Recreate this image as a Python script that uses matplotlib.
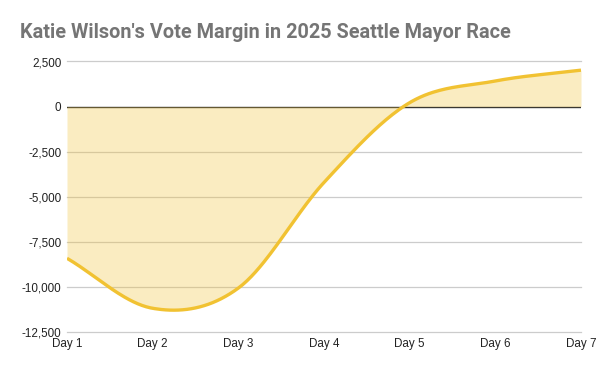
import numpy as np
import matplotlib.pyplot as plt

days = ["Day 1", "Day 2", "Day 3", "Day 4", "Day 5", "Day 6", "Day 7"]
margin = [-8400, -11170, -10050, -4200, 220, 1420, 2020]
y_ticks = [2500, 0, -2500, -5000, -7500, -10000, -12500]


def smooth(x, y, n=40, tension=0.5):
    # cardinal spline through the points, roughly like the sheets "smooth" option
    x = np.asarray(x, float)
    y = np.asarray(y, float)
    px = np.concatenate([[2 * x[0] - x[1]], x, [2 * x[-1] - x[-2]]])
    py = np.concatenate([[2 * y[0] - y[1]], y, [2 * y[-1] - y[-2]]])
    xs, ys = [], []
    for i in range(1, len(px) - 2):
        t = np.linspace(0, 1, n, endpoint=False)
        h00 = 2 * t**3 - 3 * t**2 + 1
        h10 = t**3 - 2 * t**2 + t
        h01 = -2 * t**3 + 3 * t**2
        h11 = t**3 - t**2
        mx0 = tension * (px[i + 1] - px[i - 1])
        mx1 = tension * (px[i + 2] - px[i])
        my0 = tension * (py[i + 1] - py[i - 1])
        my1 = tension * (py[i + 2] - py[i])
        xs.append(h00 * px[i] + h10 * mx0 + h01 * px[i + 1] + h11 * mx1)
        ys.append(h00 * py[i] + h10 * my0 + h01 * py[i + 1] + h11 * my1)
    xs.append([x[-1]])
    ys.append([y[-1]])
    return np.concatenate(xs), np.concatenate(ys)


x = np.arange(len(days))
sx, sy = smooth(x, margin)

fig = plt.figure(figsize=(6, 3.71), dpi=100)
ax = fig.add_axes([67 / 600, 1 - 332.3 / 371, 514 / 600, 270.8 / 371])

for v in y_ticks:
    if v != 0:
        ax.axhline(v, color="#cccccc", lw=0.9, zorder=0, clip_on=False)
ax.axhline(0, color="#333333", lw=1.0, zorder=1)

ax.fill_between(sx, sy, 0, color="#f1c232", alpha=0.3, lw=0, zorder=2)
ax.plot(sx, sy, color="#f1c232", lw=2.4, solid_capstyle="butt", zorder=3)

ax.set_xlim(0, len(days) - 1)
ax.set_ylim(-12500, 2500)
ax.set_xticks(x)
ax.set_xticklabels(days)
ax.set_yticks(y_ticks)
ax.set_yticklabels([f"{v:,}" for v in y_ticks])
for s in ax.spines.values():
    s.set_visible(False)
ax.tick_params(length=0, labelsize=8.4, labelcolor="#222222", pad=4)
for lab in ax.get_xticklabels() + ax.get_yticklabels():
    lab.set_family(["Liberation Sans", "DejaVu Sans"])

fig.text(19.5 / 600, 1 - 38.3 / 371, "Katie Wilson's Vote Margin in 2025 Seattle Mayor Race",
         fontsize=14.3, fontweight="bold", color="#757575",
         family=["Roboto", "DejaVu Sans"], ha="left", va="baseline")

fig.savefig("out.png", dpi=100)
